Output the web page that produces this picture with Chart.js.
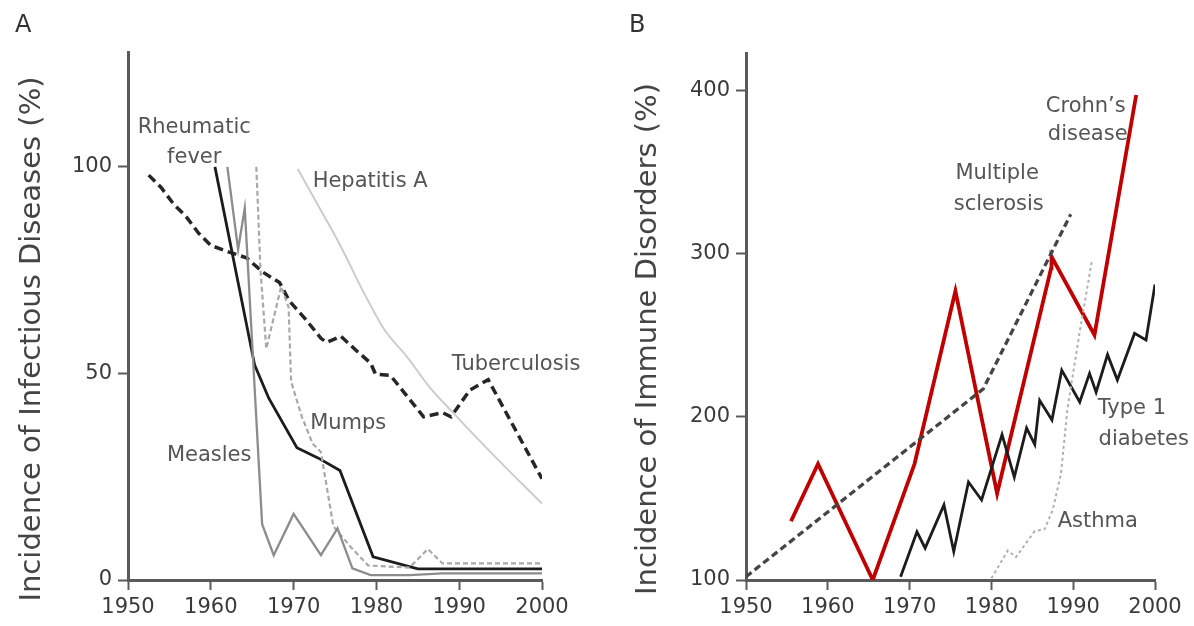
<!DOCTYPE html>
<html>
<head>
<meta charset="utf-8">
<script src="https://cdn.jsdelivr.net/npm/chart.js@4.4.1/dist/chart.umd.min.js"></script>
<style>
  html, body { margin: 0; padding: 0; background: #fff; }
  #wrap { position: relative; width: 1194px; height: 626px; }
  canvas { position: absolute; top: 0; }
  #chartA { left: 0; }
  #chartB { left: 597px; }
</style>
</head>
<body>
<div id="wrap">
  <canvas id="chartA" width="597" height="626"></canvas>
  <canvas id="chartB" width="597" height="626"></canvas>
</div>
<script>
// tick labels
const xTicks = [1950, 1960, 1970, 1980, 1990, 2000];
const yTicksA = [0, 50, 100];
const yTicksB = [100, 200, 300, 400];

// Panel A - infectious diseases (%)
const tbYears = [1952.5, 1954, 1955.5, 1957, 1958.5, 1960, 1962.3, 1964.3, 1966.3, 1968.3, 1969.5, 1971.5, 1973.3, 1974, 1975.7, 1977.6, 1979.3, 1979.9, 1981.7, 1983.5, 1985.7, 1988, 1989, 1991.3, 1993.5, 2000];
const tbValues = [98, 95, 91, 88, 84, 81, 79.3, 78, 74.5, 72, 67.5, 63, 58.5, 57.5, 59, 55.5, 52.5, 49.8, 49.5, 45, 39.5, 40.5, 39.5, 46, 48.5, 24.5];

const rheumaticYears = [1960.5, 1965.3, 1967, 1970.4, 1973, 1975.6, 1979.6, 1985, 2000];
const rheumaticValues = [100, 52, 44, 32, 29.5, 26.5, 5.6, 2.7, 2.7];

const measlesYears = [1962, 1963.3, 1964.1, 1966.2, 1967.6, 1970, 1973.3, 1975.3, 1977.1, 1979.3, 1984, 1988, 2000];
const measlesValues = [100, 80, 90, 13.5, 6, 16, 6, 12.5, 2.8, 1.2, 1.2, 1.6, 1.6];

const mumpsYears = [1965.5, 1966, 1966.7, 1968.5, 1969.4, 1969.7, 1971, 1972.3, 1973.3, 1974.8, 1976.9, 1979, 1984, 1986.2, 1988, 2000];
const mumpsValues = [100, 75, 56, 71, 66, 48, 39.5, 33, 31, 13, 8, 3.5, 3, 7.5, 4, 4];

const hepYears = [1970.5, 1973, 1975.5, 1978.5, 1981, 1983.7, 1986.5, 1989.3, 1994.5, 2000];
const hepValues = [99.5, 90.5, 81.5, 69.5, 60.5, 54, 46.5, 40.4, 29.5, 18.5];

// Panel B - immune disorders (%)
const msYears = [1950, 1979, 1989.7];
const msValues = [102, 217, 324];

const crohnYears = [1955.5, 1958.8, 1965.5, 1970.6, 1975.6, 1980.7, 1987.3, 1987.35, 1992.6, 1997.7];
const crohnValues = [136, 171, 100, 171, 277, 153, 291, 298, 250, 397];

const t1dYears = [1968.9, 1970.9, 1971.9, 1974.2, 1975.4, 1977.2, 1978.8, 1981.3, 1982.8, 1984.3, 1985.3, 1985.9, 1987.4, 1988.6, 1990.8, 1992, 1992.8, 1994.2, 1995.4, 1997.5, 1998.9, 2000];
const t1dValues = [102, 129.5, 119.5, 146, 117.5, 160, 149, 189, 163, 193, 183, 210, 198, 228.5, 209, 226.5, 215, 238, 222.5, 251, 247, 281];

const asthmaYears = [1980, 1982, 1983, 1985.3, 1986.5, 1987.5, 1988.5, 1989.3, 1990.8, 1992.3];
const asthmaValues = [101, 118, 114, 130, 131, 143, 165, 205, 252, 296];

const FONT = '"DejaVu Sans", sans-serif';

function pairs(xs, ys) {
  return xs.map((x, i) => ({ x: x, y: ys[i] }));
}

function line(label, xs, ys, color, width, dash, extra) {
  return Object.assign({
    label: label,
    data: pairs(xs, ys),
    borderColor: color,
    borderWidth: width,
    borderDash: dash || [],
    pointRadius: 0,
    fill: false,
    tension: 0,
  }, extra || {});
}

// draws in-plot labels, the panel letter and the rotated axis title
const textLabels = {
  id: "textLabels",
  beforeDatasetsDraw(chart, args, opts) {
    const ctx = chart.ctx;
    const xs = chart.scales.x;
    const ys = chart.scales.y;
    ctx.save();
    ctx.font = "21px " + FONT;
    ctx.fillStyle = "#555";
    ctx.textBaseline = "alphabetic";
    opts.items.forEach((it) => {
      ctx.textAlign = it.align || "left";
      ctx.fillText(it.text, xs.getPixelForValue(it.x), ys.getPixelForValue(it.y));
    });
    ctx.restore();
  },
  afterDraw(chart, args, opts) {
    const ctx = chart.ctx;
    ctx.save();
    ctx.fillStyle = "#333";
    ctx.font = "24px " + FONT;
    ctx.textAlign = "left";
    ctx.textBaseline = "alphabetic";
    ctx.fillText(opts.panel, opts.panelX, 32);

    ctx.fillStyle = "#444";
    ctx.font = "29px " + FONT;
    ctx.textAlign = "center";
    ctx.translate(opts.titleX, 339);
    ctx.rotate(-Math.PI / 2);
    ctx.fillText(opts.title, 0, 0);
    ctx.restore();
  },
};

function makeChart(id, datasets, cfg) {
  const ctx = document.getElementById(id).getContext("2d");
  return new Chart(ctx, {
    type: "line",
    data: { datasets: datasets },
    plugins: [textLabels],
    options: {
      responsive: false,
      animation: false,
      layout: { padding: { left: 0, right: cfg.padRight, top: cfg.padTop, bottom: 0 } },
      plugins: {
        legend: { display: false },
        tooltip: { enabled: false },
        textLabels: {
          items: cfg.labels,
          panel: cfg.panel,
          panelX: cfg.panelX,
          title: cfg.title,
          titleX: cfg.titleX,
        },
      },
      scales: {
        x: {
          type: "linear",
          min: 1950,
          max: 2000,
          afterBuildTicks: (s) => { s.ticks = xTicks.map((v) => ({ value: v })); },
          afterFit: (s) => { s.height = 46; },
          border: { display: true, color: "#5a5a5a", width: 3 },
          grid: { drawOnChartArea: false, tickLength: 10, tickColor: "#5a5a5a", tickWidth: 2 },
          ticks: {
            color: "#3a3a3a",
            font: { family: FONT, size: 21 },
            padding: 5,
            maxRotation: 0,
            autoSkip: false,
            callback: (v) => String(v),
          },
        },
        y: {
          min: cfg.yMin,
          max: cfg.yMax,
          afterBuildTicks: (s) => { s.ticks = cfg.yTicks.map((v) => ({ value: v })); },
          afterFit: (s) => { s.width = cfg.yWidth; },
          border: { display: true, color: "#5a5a5a", width: 3 },
          grid: { drawOnChartArea: false, tickLength: 10, tickColor: "#5a5a5a", tickWidth: 2 },
          ticks: {
            color: "#3a3a3a",
            font: { family: FONT, size: 21 },
            padding: 6,
            autoSkip: false,
            callback: (v) => String(v),
          },
        },
      },
    },
  });
}

makeChart("chartA", [
  line("Hepatitis A", hepYears, hepValues, "#cccccc", 2, null, { cubicInterpolationMode: "monotone" }),
  line("Measles", measlesYears, measlesValues, "#8c8c8c", 2.3),
  line("Mumps", mumpsYears, mumpsValues, "#a8a8a8", 2.2, [5, 3]),
  line("Rheumatic fever", rheumaticYears, rheumaticValues, "#1c1c1c", 2.8),
  line("Tuberculosis", tbYears, tbValues, "#262626", 3.5, [9, 5]),
], {
  yMin: 0, yMax: 127.8, yTicks: yTicksA, yWidth: 128, padRight: 55, padTop: 52,
  panel: "A", panelX: 15, title: "Incidence of Infectious Diseases (%)", titleX: 40,
  labels: [
    { text: "Rheumatic", x: 1958, y: 108.2, align: "center" },
    { text: "fever", x: 1958, y: 101, align: "center" },
    { text: "Hepatitis A", x: 1972.3, y: 95.2 },
    { text: "Tuberculosis", x: 1989.1, y: 50.8 },
    { text: "Mumps", x: 1972, y: 36.6 },
    { text: "Measles", x: 1954.7, y: 28.8 },
  ],
});

makeChart("chartB", [
  line("Asthma", asthmaYears, asthmaValues, "#b0b0b0", 2, [3, 3]),
  line("Multiple sclerosis", msYears, msValues, "#454545", 3.3, [7, 4]),
  line("Type 1 diabetes", t1dYears, t1dValues, "#1c1c1c", 2.8),
  line("Crohn\u2019s disease", crohnYears, crohnValues, "#c00000", 3.8),
], {
  yMin: 100, yMax: 422.7, yTicks: yTicksB, yWidth: 149, padRight: 39, padTop: 53,
  panel: "B", panelX: 32, title: "Incidence of Immune Disorders (%)", titleX: 59,
  labels: [
    { text: "Crohn\u2019s", x: 1986.65, y: 386.6 },
    { text: "disease", x: 1986.9, y: 369.4 },
    { text: "Multiple", x: 1975.6, y: 345.4 },
    { text: "sclerosis", x: 1975.4, y: 326.4 },
    { text: "Type 1", x: 1993, y: 201.7 },
    { text: "diabetes", x: 1993.1, y: 182.7 },
    { text: "Asthma", x: 1988.1, y: 132.5 },
  ],
});
</script>
</body>
</html>
